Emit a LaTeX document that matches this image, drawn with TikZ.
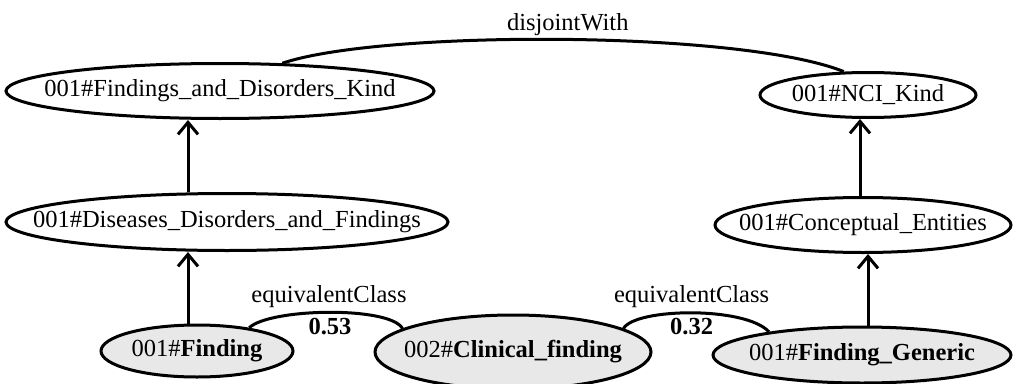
\documentclass[tikz,border=0pt]{standalone}
\usepackage{fontspec}
\setmainfont{Liberation Serif}
\usetikzlibrary{shapes.geometric,arrows.meta}
\begin{document}
\begin{tikzpicture}[x=1pt,y=-1pt,
  ell/.style={ellipse,draw=black,line width=3pt,inner sep=0pt,fill=white},
  ellg/.style={ell,fill=black!9},
  txt/.style={font=\fontsize{24.5}{28}\selectfont,inner sep=0pt},
  conn/.style={line width=3pt,draw=black},
  arr/.style={conn,-{Straight Barb[length=12pt,width=20pt,line width=3pt]}}
]
\useasboundingbox (0,0) rectangle (1015,383);

% nodes
\node[ell,minimum width=428pt,minimum height=55pt] (k) at (220,91) {};
\node[txt] (kt) at (k) {001\#Findings\_and\_Disorders\_Kind};
\node[ell,minimum width=442pt,minimum height=57pt] (d) at (227,222) {};
\node[txt] (dt) at (d) {001\#Diseases\_Disorders\_and\_Findings};
\node[ellg,minimum width=192pt,minimum height=52pt] (f) at (197,351) {};
\node[txt] (ft) at (f) {001\#\textbf{Finding}};
\node[ellg,minimum width=276pt,minimum height=74pt] (c) at (513,352) {};
\node[txt] (ct) at (c) {002\#\textbf{Clinical\_finding}};
\node[ellg,minimum width=298pt,minimum height=56pt] (g) at (862,355) {};
\node[txt] (gt) at (g) {001\#\textbf{Finding\_Generic}};
\node[ell,minimum width=296pt,minimum height=55pt] (e) at (863,225) {};
\node[txt] (et) at (e) {001\#Conceptual\_Entities};
\node[ell,minimum width=216pt,minimum height=45pt] (n) at (868,95) {};
\node[txt] (nt) at (n) {001\#NCI\_Kind};

% subclass arrows
\draw[arr] ([xshift=-9pt]f.north) -- ([xshift=-39pt]d.south);
\draw[arr] ([xshift=-39pt]d.north) -- ([xshift=-32pt]k.south);
\draw[arr] ([xshift=6pt]g.north) -- ([xshift=5pt]e.south);
\draw[arr] ([xshift=-3pt]e.north) -- ([xshift=-8pt]n.south);

% disjointWith
\draw[conn] (k.24) .. controls (380,30) and (740,30) .. (n.136)
  node[txt,pos=0.5,yshift=15pt,xshift=7pt] (dw) {disjointWith};

% equivalentClass arcs
\draw[conn] (f.24) .. controls (270,308) and (390,306) .. (c.168)
  node[txt,pos=0.5,yshift=16pt] (eq1) {equivalentClass}
  node[txt,pos=0.5,yshift=-14pt,xshift=1pt] (w1) {\textbf{0.53}};
\draw[conn] (c.12) .. controls (635,308) and (745,306) .. (g.166)
  node[txt,pos=0.5,yshift=16pt] (eq2) {equivalentClass}
  node[txt,pos=0.5,yshift=-14pt] (w2) {\textbf{0.32}};
\end{tikzpicture}
\end{document}
